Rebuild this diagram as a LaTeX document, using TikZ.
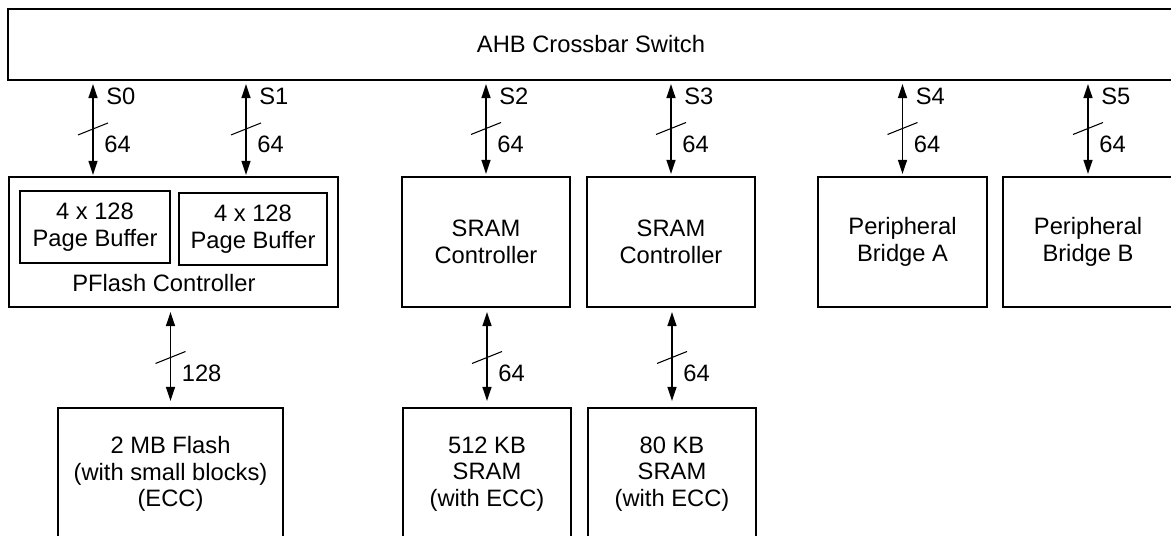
\documentclass[tikz,border=0pt]{standalone}
\usepackage{fontspec}
\setmainfont{Liberation Sans}
\usetikzlibrary{arrows.meta, calc}
\tikzset{
	unitbox/.style={draw, line width=1.1pt, align=center, font={\fontsize{13.5}{15.1}\selectfont}, minimum height=2.6cm},
	busarr/.style={{Triangle[length=8pt, width=5pt]}-{Triangle[length=8pt, width=5pt]}, line width=1.1pt},
	buscut/.style={line width=0.6pt},
	buslbl/.style={font={\fontsize{13.5}{15.1}\selectfont}, inner sep=0pt, anchor=west},
}
\begin{document}
\begin{tikzpicture}[x=0.02cm, y=-0.02cm]
	\path[use as bounding box] (0,0) rectangle (1171,536);
	\clip (0,0) rectangle (1171,536);
	% crossbar
	\node[unitbox, minimum width=23.32cm, minimum height=1.42cm] (xbar) at (591,44.5) {AHB Crossbar Switch};
	% slaves
	\node[unitbox, minimum width=6.58cm] (pflash) at (173.5,242) {};
	\node[unitbox, minimum width=3cm, minimum height=1.44cm] (pb1) at (95,227) {4 x 128\\Page Buffer};
	\node[unitbox, minimum width=2.96cm, minimum height=1.44cm] (pb2) at (253,229) {4 x 128\\Page Buffer};
	\node[buslbl, anchor=center] (pflbl) at (164,283) {PFlash Controller};
	\node[unitbox, minimum width=3.36cm] (sc1) at (486,242) {SRAM\\Controller};
	\node[unitbox, minimum width=3.36cm] (sc2) at (671,242) {SRAM\\Controller};
	\node[unitbox, minimum width=3.38cm] (pba) at (902.5,242) {Peripheral\\Bridge A};
	\node[unitbox, minimum width=3.4cm] (pbb) at (1088,242) {Peripheral\\Bridge B};
	% memories
	\node[unitbox, minimum width=4.5cm, minimum height=2.64cm] (flash) at (170.5,474) {2 MB Flash\\(with small blocks)\\(ECC)};
	\node[unitbox, minimum width=3.36cm, minimum height=2.64cm] (sr1) at (487,474) {512 KB\\SRAM\\(with ECC)};
	\node[unitbox, minimum width=3.36cm, minimum height=2.64cm] (sr2) at (672,474) {80 KB\\SRAM\\(with ECC)};
	\coordinate (s0) at (93,177);
	\coordinate (s1) at (246,177);
	% slave ports
	\foreach \dst/\lab in {s0/S0, s1/S1, sc1/S2, sc2/S3, pba/S4, pbb/S5}{
		\draw[busarr, shorten <=0.06cm, shorten >=0.04cm] (xbar.south -| \dst) -- (\dst) coordinate[midway] (m);
		\draw[buscut] ($(m)+(-15,6)$) -- ($(m)+(15,-6)$);
		\node[buslbl] at ($(xbar.south -| \dst)+(13,15)$) {\lab};
		\node[buslbl] at ($(m)+(11,15.5)$) {64};
	}
	% memory buses
	\foreach \src/\dst/\wid in {pflash/flash/128, sc1/sr1/64, sc2/sr2/64}{
		\draw[busarr, shorten <=0.08cm, shorten >=0.12cm] (\src.south -| \dst) -- (\dst) coordinate[midway] (m);
		\draw[buscut] ($(m)+(-15,6)$) -- ($(m)+(15,-6)$);
		\node[buslbl] at ($(m)+(11,15.5)$) {\wid};
	}
\end{tikzpicture}
\end{document}
